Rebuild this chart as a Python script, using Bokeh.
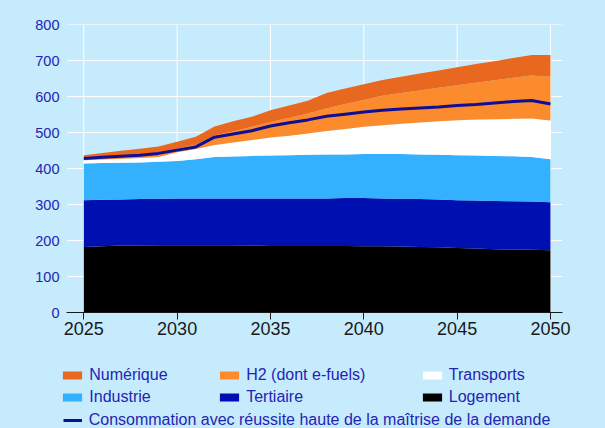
from bokeh.plotting import figure
from bokeh.models import ColumnDataSource, Legend, LegendItem, Range1d, FixedTicker
from bokeh.embed import file_html
from bokeh.resources import INLINE

# ---- data (TWh) ----
years = list(range(2025, 2051))
logement = [182, 184, 186, 186, 187, 187, 187, 187, 187, 186, 185, 185, 185,
            185, 185, 184, 184, 183, 182, 181, 179, 178, 176, 175, 174, 173]
tertiaire = [130, 129, 128, 129, 129, 130, 130, 130, 130, 131, 132, 132, 132,
             132, 133, 134, 133, 133, 133, 133, 133, 133, 134, 134, 134, 133]
industrie = [102, 102, 102, 102, 103, 104, 109, 115, 116, 118, 119, 120, 121,
             122, 121, 122, 123, 124, 124, 124, 125, 125, 125, 125, 124, 120]
transports = [9, 10, 11, 12, 13, 24, 28, 33, 39, 44, 50, 54, 59,
              65, 71, 76, 80, 84, 89, 93, 97, 100, 102, 104, 107, 107]
h2 = [8, 8, 9, 10, 10, 10, 12, 27, 31, 37, 43, 49, 56,
      63, 69, 74, 82, 86, 89, 93, 97, 102, 108, 114, 119, 122]
numerique = [6, 10, 13, 16, 19, 19, 22, 25, 28, 28, 33, 35, 35,
             43, 43, 44, 44, 45, 47, 48, 50, 52, 53, 55, 57, 60]
conso_mde = [428, 431, 434, 437, 442, 451, 460, 487, 496, 505, 518, 527, 535,
             545, 551, 557, 562, 565, 568, 571, 575, 578, 582, 586, 589, 579]

series_keys = ["logement", "tertiaire", "industrie", "transports", "h2", "numerique"]
series_labels = {"numerique": "Numérique", "h2": "H2 (dont e-fuels)",
                 "transports": "Transports", "industrie": "Industrie",
                 "tertiaire": "Tertiaire", "logement": "Logement"}
line_label = "Consommation avec réussite haute de la maîtrise de la demande"
x_ticks = [2025, 2030, 2035, 2040, 2045, 2050]
y_ticks = [0, 100, 200, 300, 400, 500, 600, 700, 800]

# ---- style ----
BG = "#C6EBFD"
TXT = "#2424B4"
FONT = "Liberation Sans"
colors = {"logement": "#000000", "tertiaire": "#000FB0", "industrie": "#33B1FF",
          "transports": "#FFFFFF", "h2": "#FB8B2D", "numerique": "#E96820"}

source = ColumnDataSource(dict(year=years, logement=logement, tertiaire=tertiaire,
                               industrie=industrie, transports=transports, h2=h2,
                               numerique=numerique, conso=conso_mde))

# frame covers the legend area too; the x axis sits at y = 0
X0, X1 = 2023.752, 2051.341          # frame extent (room for labels/legend)
GX0, GX1 = 2024.111, 2050.628        # extent of the drawn plot area
Y0, Y1 = -322.2, 800
p = figure(width=605, height=428, output_backend="svg", toolbar_location=None,
           title=None,
           x_range=Range1d(X0, X1), y_range=Range1d(Y0, Y1),
           min_border_left=60, min_border_right=30, min_border_top=24,
           min_border_bottom=0,
           background_fill_color=BG, border_fill_color=BG, outline_line_color=None)

# grid lines limited to the plot area
p.grid.visible = False
p.segment(x0=x_ticks, y0=[y_ticks[0]] * len(x_ticks), x1=x_ticks,
          y1=[y_ticks[-1]] * len(x_ticks), line_color="white", line_width=1)
p.segment(x0=[GX0] * (len(y_ticks) - 1), y0=y_ticks[1:],
          x1=[GX1] * (len(y_ticks) - 1), y1=y_ticks[1:],
          line_color="white", line_width=1)

rs = p.varea_stack(stackers=series_keys, x="year", source=source,
                   fill_color=[colors[k] for k in series_keys])
rmap = dict(zip(series_keys, rs))
lr = p.line("year", "conso", source=source, line_color="#0E0E96", line_width=3)

# axes
p.xaxis.ticker = FixedTicker(ticks=x_ticks)
p.yaxis.ticker = FixedTicker(ticks=y_ticks)

p.xaxis.fixed_location = 0
p.xaxis.bounds = (GX0 - 0.02, GX1)
p.xaxis.axis_line_color = "#1A1A1A"
p.xaxis.major_tick_line_color = "#1A1A1A"
p.xaxis.major_tick_out = 7
p.xaxis.major_tick_in = 0
p.xaxis.minor_tick_line_color = None
p.xaxis.major_label_standoff = 2
p.xaxis.major_label_text_font = FONT
p.xaxis.major_label_text_font_size = "18px"
p.xaxis.major_label_text_color = "#1A1A1A"

p.yaxis.axis_line_color = None
p.yaxis.major_tick_line_color = None
p.yaxis.minor_tick_line_color = None
p.yaxis.major_tick_out = 0
p.yaxis.major_tick_in = 0
p.yaxis.major_label_standoff = 1
p.yaxis.major_label_text_font = FONT
p.yaxis.major_label_text_font_size = "14.5px"
p.yaxis.major_label_text_color = TXT

# legends
style = dict(border_line_color=None, background_fill_alpha=0, padding=0, margin=0,
             spacing=2, label_height=20, glyph_height=10, glyph_width=24,
             label_standoff=5, label_text_font=FONT, label_text_font_size="16px",
             label_text_color=TXT)

def col_legend(keys, loc):
    items = [LegendItem(label=series_labels[k], renderers=[rmap[k]]) for k in keys]
    return Legend(items=items, location=loc, **style)

p.add_layout(col_legend(["numerique", "industrie"], (0.3, 21)), "center")
p.add_layout(col_legend(["h2", "tertiaire"], (157.2, 21)), "center")
p.add_layout(col_legend(["transports", "logement"], (359.8, 21)), "center")

line_style = dict(style)
line_style.update(glyph_width=19, label_standoff=7)
p.add_layout(Legend(items=[LegendItem(label=line_label, renderers=[lr])],
                    location=(2.7, -2), **line_style), "center")

tmpl = """{% block postamble %}<style>html, body { margin: 0 !important; padding: 0 !important; background: #C6EBFD; overflow: hidden; }</style>{% endblock %}"""

open("out.html", "w", encoding="utf-8").write(
    file_html(p, INLINE, title="Consommation", template=tmpl))
